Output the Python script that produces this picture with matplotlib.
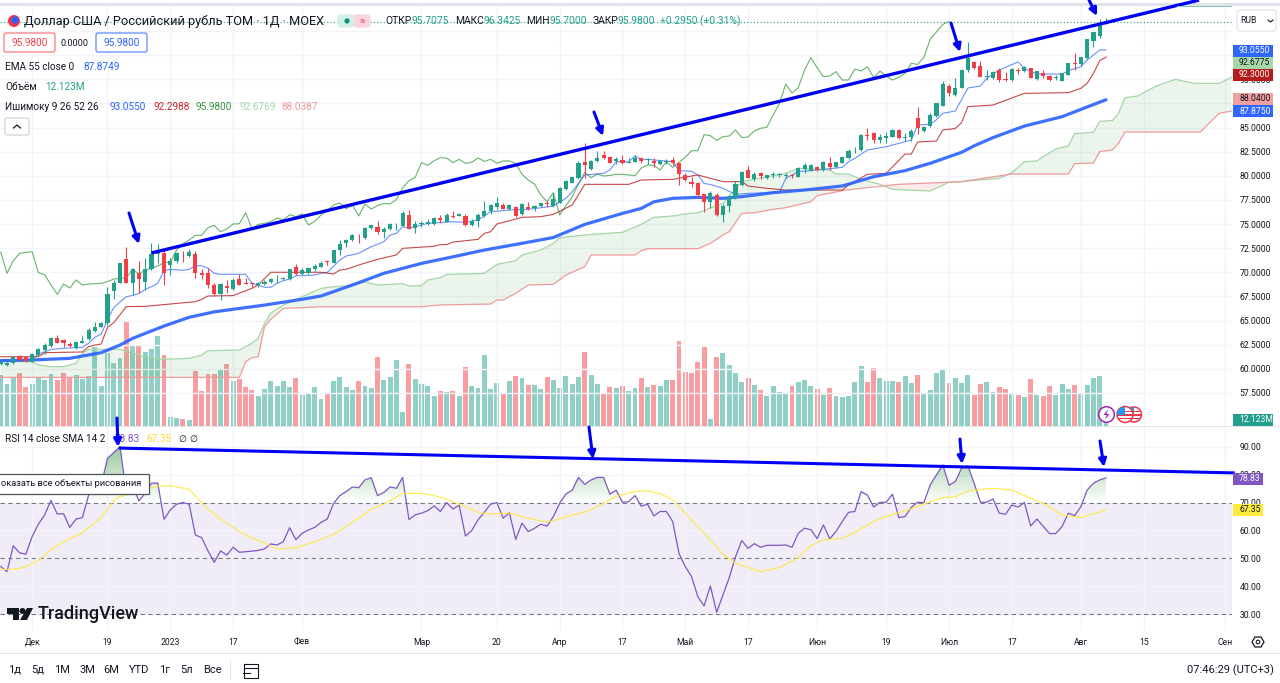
import numpy as np
import matplotlib
matplotlib.use('Agg')
import matplotlib.pyplot as plt
from matplotlib.patches import Rectangle, FancyBboxPatch, Circle, Polygon
from matplotlib.path import Path

plt.rcParams['font.family'] = ['Roboto', 'DejaVu Sans']

# daily candles, bar 0 = late Nov 2022
opens = [60.49,60.43,60.63,61.32,61.25,60.74,61.43,61.94,62.36,63.19,62.98,62.6,62.12,62.71,63.09,63.91,64.36,64.78,68.09,68.92,
         71.34,68.92,69.96,69.0,70.3,71.89,72.03,70.75,71.2,72.13,71.72,71.89,69.96,69.96,68.68,67.71,68.58,68.27,69.3,68.85,
         68.89,68.72,68.78,69.03,69.27,69.27,69.27,70.51,69.82,69.89,70.3,70.58,71.17,71.0,72.3,73.07,73.34,73.9,73.51,74.55,
         74.72,74.17,74.48,74.96,74.83,75.93,74.55,74.96,74.96,74.96,75.59,75.24,75.83,75.83,75.86,74.9,75.28,75.83,76.31,76.8,
         76.97,76.52,76.73,76.04,76.73,76.62,76.9,77.18,76.86,77.21,78.63,79.28,79.77,81.39,80.66,81.49,82.12,81.91,81.56,81.63,
         81.32,81.46,81.8,81.63,81.56,81.25,81.42,81.63,81.29,80.08,79.35,79.28,78.11,77.31,78.0,75.9,76.86,77.66,79.04,80.6,
         79.63,80.25,79.73,80.08,80.08,79.97,80.08,79.9,80.66,80.53,80.94,80.6,81.29,80.87,81.35,81.84,82.53,82.67,84.22,84.4,
         83.7,83.95,84.05,84.74,83.95,83.98,85.95,84.64,85.16,86.19,87.26,89.3,88.37,89.13,90.96,91.82,91.41,90.23,90.1,90.96,
         89.99,89.92,90.96,90.85,91.13,90.02,90.68,90.33,90.13,89.82,90.44,91.72,91.54,92.16,94.0,94.48,95.7075]
closes = [60.74,60.56,61.25,60.91,60.84,61.53,62.01,62.43,63.15,62.71,62.71,62.36,62.77,62.91,64.02,64.33,64.71,67.71,68.85,71.0,
          68.92,70.3,69.27,70.34,71.89,72.1,69.89,71.2,71.96,72.06,72.13,69.96,69.75,68.68,67.71,68.78,68.37,69.2,68.68,68.78,
          68.82,68.85,69.03,69.3,69.34,69.44,70.3,69.82,70.23,70.41,70.65,71.0,71.06,72.3,72.93,73.34,73.83,73.83,74.62,74.86,
          74.2,74.48,75.0,75.03,76.17,74.52,74.96,75.07,75.24,75.62,75.41,75.97,75.76,76.04,74.9,75.28,75.93,76.38,76.97,77.18,
          76.59,76.97,75.83,77.07,76.55,76.9,77.14,77.07,77.55,78.73,79.49,79.83,81.36,81.08,81.56,81.87,81.84,81.36,81.7,81.29,
          81.39,81.84,81.49,81.7,81.29,81.53,81.53,81.29,80.15,79.56,79.14,78.0,77.31,78.25,75.93,76.9,77.83,79.14,80.35,79.8,
          80.18,79.97,80.04,80.15,80.15,80.08,80.01,80.8,81.11,81.08,80.6,81.46,80.87,81.39,81.91,82.6,82.6,84.26,84.15,83.67,
          84.05,84.12,84.74,83.95,84.02,84.64,84.92,85.02,86.3,87.5,89.5,88.58,89.13,90.96,92.24,91.2,90.27,90.34,90.79,89.92,
          89.92,91.06,90.85,91.3,90.16,90.85,90.33,89.92,90.2,90.61,91.65,91.54,92.27,94.13,94.9,95.69,95.98]
highs = [60.85,60.7,61.35,61.45,61.35,61.6,62.12,62.64,63.33,63.47,63.12,62.81,62.85,63.4,64.19,64.88,64.88,68.51,69.2,71.0,
         72.58,70.41,71.2,71.44,73.0,72.93,72.48,71.44,72.13,72.24,72.41,72.24,70.3,70.41,68.85,68.92,69.2,69.37,69.82,69.44,
         69.03,69.03,69.2,69.37,69.72,69.5,70.34,70.86,70.48,70.5,70.86,71.2,71.27,72.35,73.34,73.48,73.96,73.93,74.7,74.93,
         75.31,74.72,75.07,75.14,76.38,76.45,75.31,75.35,75.55,75.76,75.93,76.1,76.35,76.1,76.04,75.48,76.1,77.42,77.07,77.76,
         77.21,77.04,76.86,77.14,77.28,76.97,77.21,77.42,78.18,78.8,79.55,79.9,81.56,83.43,81.63,82.56,82.6,82.05,81.98,82.15,
         81.8,82.15,81.98,81.8,81.8,81.63,81.7,81.98,81.29,80.32,79.9,79.39,78.11,78.42,78.25,77.07,77.97,79.49,80.49,81.04,
         80.42,80.42,80.08,80.42,80.32,80.25,80.18,80.87,81.35,81.22,81.04,81.53,81.91,81.46,81.95,82.74,83.01,84.3,84.98,84.57,
         84.29,84.57,84.81,84.85,84.4,84.85,87.16,85.16,86.47,87.57,89.82,89.54,90.1,91.06,93.83,91.89,91.93,90.96,90.85,91.13,
         90.78,91.13,91.13,91.37,91.2,90.9,91.0,90.4,90.44,90.68,91.7,92.68,92.34,94.2,94.9,96.24,96.3425]
lows = [60.35,60.3,60.5,60.8,60.7,60.7,61.32,61.53,62.3,62.64,62.29,62.29,62.05,62.64,62.98,63.85,64.3,64.54,67.2,68.92,
        68.92,67.65,67.89,68.16,70.23,70.93,68.68,69.72,70.93,71.1,71.55,69.37,69.27,68.33,67.58,67.13,67.82,68.16,68.68,68.78,
        68.44,68.51,68.68,68.85,68.85,69.2,69.24,69.72,69.72,69.8,70.17,70.51,70.75,70.95,71.79,72.65,73.27,73.0,73.45,74.52,
        73.93,73.58,74.38,74.38,74.79,74.52,74.03,74.72,74.9,74.9,75.07,75.17,75.66,75.8,74.83,74.79,74.72,75.76,76.04,76.59,
        76.52,76.45,75.69,75.93,76.45,76.35,76.73,76.8,76.8,77.15,78.55,79.21,79.7,79.8,80.6,81.46,81.77,81.29,81.18,81.22,
        81.29,81.39,81.35,81.22,80.94,81.11,81.18,81.15,79.04,79.46,78.87,77.66,76.28,76.62,75.83,75.24,76.28,77.59,78.97,79.73,
        79.49,79.63,79.7,79.8,79.84,79.73,79.8,79.84,80.25,80.49,80.53,80.53,80.6,80.84,81.3,81.77,82.32,82.6,83.7,83.36,
        83.36,83.36,84.0,83.8,83.55,83.55,84.29,84.5,85.09,86.12,87.26,88.3,88.3,89.13,90.72,91.06,90.2,89.92,90.03,89.75,
        89.82,89.85,90.54,90.8,90.1,89.96,90.16,89.85,89.92,89.78,90.4,90.96,91.37,92.1,93.37,94.24,95.7]

# volume in millions
volumes = [103,85,98,106,78,85,96,93,105,93,106,98,103,95,101,159,80,147,127,136,
           209,161,161,149,155,181,142,18,16,15,13,111,71,105,105,113,124,91,95,78,
           73,60,75,91,80,91,78,96,63,65,78,55,65,90,98,78,73,91,80,77,
           138,93,98,133,28,125,95,85,80,61,70,68,71,61,118,80,77,143,75,87,
           65,91,100,97,83,83,75,98,93,77,101,85,98,148,103,85,67,78,77,81,
           70,77,97,78,83,81,93,93,171,108,107,128,158,15,138,147,123,107,88,97,
           83,73,60,80,68,65,80,88,93,80,75,63,77,60,58,60,88,120,88,117,
           96,90,90,88,100,87,102,67,73,107,113,87,97,87,102,62,85,88,68,78,
           75,67,63,58,95,63,60,80,63,85,75,82,67,83,97,100,12.123]

rsi = [47.1,45.3,54.5,52,51.5,57.8,62.3,65.6,70.8,65.9,66,61.1,64.1,64.6,72.7,75,76.3,85.8,87.9,90,
       73.3,76.3,70.6,73.3,76.9,77,64,67.4,69.4,70,69.4,58.4,57.4,52.7,48.6,52.7,51.2,54,52.2,52.4,
       52.6,52.9,53.4,55.2,54.8,56,61,56.7,59,60.2,61.1,62.9,64.1,69.7,72.5,73.9,75.6,75.3,78.1,78.9,
       72.5,73.6,75.6,75.1,79,63.9,65.6,66.2,67.1,68.8,66.8,70,67.7,69,58,60,63.8,66.5,69.4,70,
       64.4,66.4,56.8,62.6,59.6,60.8,62.2,61.6,65,69.7,73.1,74.4,79,76.5,78.1,79,79,73,74.4,70.1,
       70.3,72.5,68.7,69.4,65.2,66.8,66.8,63.2,51.8,47.1,43.5,36.3,33,40.1,30.7,36.9,43.1,50.6,56.4,53.6,
       55.3,54,54.7,54.7,54.7,54.8,54,59,60.8,60.3,57.1,62,57,59.6,63.2,66.5,66.8,73.9,72.7,68.4,
       70.1,70.1,73,64.6,65,68.3,70.1,70,76.3,79.9,83.5,76.2,77.5,82.3,83.2,76.9,70.1,70.1,71.3,66.2,
       65.8,69.1,68.4,70,61.6,64.1,61.5,58.9,58.9,61.4,66.2,65.3,68.5,74.5,76.9,78.1,78.83]

rsi_ma_bars = [0,1,3,4,6,8,10,13,16,18,19,22,25,27,30,31,33,36,39,42,44,47,51,53,56,59,61,64,67,69,71,74,76,78,81,84,87,89,93,95,98,101,103,105,107,109,112,115,117,121,124,127,129,131,134,136,139,142,144,147,150,152,154,158,161,163,166,169,172,176]
rsi_ma = [46.2,46,46.4,47,49.3,53.2,56,59.1,64.7,70.6,72.2,73.9,75.9,76,74.8,72.3,67.6,62.6,58.3,55.5,53.4,53.8,56.8,58.6,62.9,67.7,69.4,73.3,73.3,72.5,71.2,68.5,66.5,65.9,66.2,64.4,63,64.2,66.6,68.6,72.2,74,74.2,73.2,71,66.2,59,51.5,48.3,45.3,46.7,50.3,54.6,56.6,57.2,59.4,63.2,65.8,67,69.4,71.8,72.1,74.2,75.1,74.5,72.5,69.7,65.6,64.6,67.35]

ema_bars = [0,5,11,16,19,21,26,30,34,42,48,51,56,61,67,72,77,83,88,93,99,102,104,107,111,115,118,123,128,134,139,144,148,153,155,158,163,169,172,176]
ema = [60.84,60.91,61.08,61.67,62.46,63.15,64.43,65.33,65.9,66.6,67.2,67.54,68.68,69.89,70.92,71.6,72.3,73,73.6,74.96,76.1,76.62,77.3,77.66,77.76,77.66,77.83,78.25,78.52,78.94,79.9,80.53,81.29,82.43,83.1,83.95,85.15,86.12,86.88,87.875]

tenkan_bars = [0,4,5,6,8,10,13,14,15,16,17,18,20,21,22,23,24,25,26,27,29,30,31,32,33,34,35,39,40,41,42,43,44,45,46,47,48,50,51,52,54,55,57,59,61,62,63,64,65,68,72,74,76,78,81,84,88,90,91,93,96,97,98,100,101,102,103,107,108,110,111,112,113,115,117,119,124,125,127,130,134,135,136,138,141,144,145,146,148,149,150,152,153,154,156,157,158,159,162,163,165,169,170,172,173,175,176]
tenkan = [60.9,60.9,60.98,61.53,62.0,62.12,62.22,62.64,63.26,63.6,65.05,66.37,67.47,67.6,67.8,68.23,68.5,68.85,70.17,70.3,70.2,70.3,70.68,70.68,70.41,69.89,69.79,69.79,68.85,68.68,68.44,68.44,68.85,69.13,69.3,69.65,69.65,69.72,69.89,69.99,71.27,71.68,71.96,72.65,73.17,73.86,74.03,74.72,74.55,75.07,75.24,75.17,75.41,76.28,76.45,76.52,76.86,77.66,78.35,80.08,80.25,80.6,81.46,81.46,82.05,81.7,81.7,81.46,80.53,80.46,80.08,79.2,79.1,78.7,78.07,78.18,78.25,79.73,80.42,80.6,80.87,81.46,81.8,82.67,83.01,83.53,83.7,85.26,85.33,85.8,86.47,86.71,87.9,89.09,89.3,90.1,90.54,90.96,91.79,91.13,90.54,90.54,90.89,91.3,91.99,93.03,93.055]

kijun_bars = [0,6,7,13,14,15,16,17,18,20,23,27,31,32,33,37,40,41,43,51,53,54,55,57,60,63,64,69,70,71,72,76,77,78,79,81,83,86,88,91,93,100,102,107,111,115,118,119,122,125,134,135,138,141,144,145,146,149,150,152,153,154,158,163,170,172,173,174,175,176]
kijun = [61.25,61.25,61.67,61.74,62.29,62.46,62.57,64.3,64.78,66.44,66.47,66.71,66.95,67.2,67.54,67.58,68.34,68.68,70,70,69.82,70.23,70.3,70.75,71.34,71.79,72.48,72.69,72.86,72.86,73.13,73.41,74.03,74.2,75,75.34,75.69,75.76,76,76.97,79.11,79.11,79.56,79.63,80.08,79.39,79.39,78.94,78.7,78.52,78.52,79.04,80.15,80.25,82.25,82.25,83.5,83.6,84.74,84.9,85.5,87.16,87.33,88.54,88.61,89.06,89.58,90.61,91.92,92.2988]

span_a_bars = [0,5,6,8,10,12,13,14,19,21,24,26,30,32,33,38,40,41,42,43,45,51,53,55,58,60,64,65,67,68,70,71,77,79,82,83,86,88,89,93,95,99,102,104,107,109,111,115,118,125,127,132,133,135,137,140,142,148,151,153,155,159,161,163,165,166,168,170,171,174,175,177,178,179,181,184,187,190,194,196]
span_a = [60.74,60.74,60.39,60.22,60.22,60.56,61.6,62.01,62.01,61.6,61.08,60.98,61.08,61.43,61.87,61.94,62.64,63.15,64.71,65.75,66.61,68.33,68.5,68.58,68.99,68.68,68.82,68.58,68.61,69.2,69.44,69.78,69.89,70.82,71.2,71.79,72.31,73,73.58,73.86,73.96,74.14,74.97,75.69,75.83,76.04,76.17,77.14,79.39,80.25,80.77,80.6,80.18,80.18,79.63,79.11,78.59,78.42,79.32,79.39,79.52,79.73,80.32,81.46,81.53,81.98,82.77,83.08,84.36,84.5,85.64,85.71,86.47,88.09,88.26,89.3,89.99,89.58,89.58,90.2]
span_b_bars = [0,38,39,40,41,42,43,45,48,51,67,70,78,79,80,82,84,88,90,93,94,101,102,103,111,113,115,116,118,120,123,125,129,130,134,137,143,153,161,163,170,171,174,175,177,178,179,191,194,196]
span_b = [59.11,59.11,60.74,61.15,61.25,64.36,65.12,66.26,66.33,66.43,66.43,66.61,66.71,67.12,67.12,67.82,68.68,68.75,69.72,70.58,71.79,71.79,72.24,72.44,72.44,73,73.86,74.2,76.1,76.17,76.52,76.69,77.31,77.94,78.45,78.7,79.11,79.39,80.18,80.18,80.18,81.25,81.32,82.5,82.67,83.36,84.53,84.53,86.47,86.71]

trend_bars = [24, 190.8]
trend_prices = [72.0, 98.2]
rsi_trend_bars = [18.8, 196.5]
rsi_trend_vals = [89.5, 80.6]

price_ticks = [57.5,60,62.5,65,67.5,70,72.5,75,77.5,80,82.5,85,87.5,90,92.5,95]
hidden_ticks = [87.5, 92.5, 95]  # sit behind the price tags / RUB box
rsi_ticks = [30,40,50,60,70,80,90]
date_bars = [5,17,27,37,48,67,79,89,99,109,119,130,141,151,161,172,182,195]
date_labels = ['Дек','19','2023','17','Фев','Мар','20','Апр','17','Май','17','Июн','19','Июл','17','Авг','15','Сен']
range_buttons = ['1д','5д','1М','3М','6М','YTD','1г','5л','Все']

TEAL = '#22a08c'
RED = '#f23f45'
GRID = '#f3f4f9'
TXT = '#131722'
BLUE = '#2962ff'
W, H = 1280, 683


def pane(top, bottom):
    return fig.add_axes([0, 1 - bottom / H, 1232 / W, (bottom - top) / H])


def cloud_part(lo, hi, color):
    xa = [b for b in span_a_bars if lo <= b <= hi]
    ya = [v for b, v in zip(span_a_bars, span_a) if lo <= b <= hi]
    xb = [b for b in span_b_bars if lo <= b <= hi]
    yb = [v for b, v in zip(span_b_bars, span_b) if lo <= b <= hi]
    ax.fill(xa + xb[::-1], ya + yb[::-1], color=color, alpha=0.1, lw=0, zorder=1)


fig = plt.figure(figsize=(W / 100, H / 100), dpi=100)

# top band goes behind the trend line
bg = fig.add_axes([0, 0, 1, 1], zorder=-1)
bg.set_xlim(0, W)
bg.set_ylim(H, 0)
bg.axis('off')
bg.add_patch(Rectangle((0, 3), W, 3, color='#e0e3eb', lw=0))

# price pane, bar i sits at 0.73 + 6.28 * i px
xlim = (-0.116, 196.06)
bars = np.arange(len(closes))
o, c, hi, lo = map(np.array, (opens, closes, highs, lows))
up = c >= o
cols = [TEAL if u else RED for u in up]

vol_ax = pane(6, 426)
vol_ax.bar(bars, volumes, width=0.78, color=cols, alpha=0.5, lw=0)
vol_ax.set_xlim(xlim)
vol_ax.set_ylim(0, 840)
vol_ax.axis('off')

ax = pane(6, 426)
ax.patch.set_visible(False)
ax.set_xlim(xlim)
ax.set_ylim(54.07, 97.59)
ax.set_xticks(date_bars)
ax.set_yticks(price_ticks)
ax.set_yticklabels(['' if p in hidden_ticks else f'{p:.4f}' for p in price_ticks], fontsize=6.2, color=TXT)
ax.yaxis.tick_right()
ax.tick_params(length=0, labelbottom=False)
ax.tick_params(axis='y', pad=5.5)
ax.grid(color=GRID, lw=1)
ax.set_axisbelow(True)
for s in ax.spines.values():
    s.set_visible(False)

cloud_part(0, 140, '#43a047')
cloud_part(140, 153, '#f44336')
cloud_part(153, 196, '#43a047')
ax.plot(span_a_bars, span_a, color='#a5d6a7', lw=0.9, zorder=2)
ax.plot(span_b_bars, span_b, color='#ef9a9a', lw=0.9, zorder=2)
# lagging span: closes drawn 25 bars back
ax.plot(bars[:-25], closes[25:], color='#43a047', lw=0.8, alpha=0.8, zorder=2)
ax.plot(tenkan_bars, tenkan, color=BLUE, lw=0.8, alpha=0.7, zorder=3)
ax.plot(kijun_bars, kijun, color='#b71c1c', lw=0.8, alpha=0.8, zorder=3)
ax.plot(ema_bars, ema, color=BLUE, lw=2.3, alpha=0.9, zorder=4, solid_capstyle='round', solid_joinstyle='round')
ax.vlines(bars, lo, hi, color=cols, lw=0.8, zorder=5)
ax.bar(bars, np.maximum(np.abs(c - o), 0.06), bottom=np.minimum(o, c), width=0.66, color=cols, lw=0, zorder=6)
ax.axhline(closes[-1], color=TEAL, lw=0.8, ls=(0, (1, 2)), zorder=4)
ax.plot(trend_bars, trend_prices, color='#0000f5', lw=2.4, zorder=8, clip_on=False, solid_capstyle='butt')

# rsi pane
rs = pane(427, 630)
rs.set_xlim(xlim)
rs.set_ylim(24.38, 97.04)
rs.axhspan(30, 70, color='#7e57c2', alpha=0.1, lw=0, zorder=0)
for lvl in (30, 50, 70):
    rs.axhline(lvl, color='#787b86', lw=0.8, ls=(0, (4, 3)), zorder=1)
rsi_arr = np.array(rsi)
over = rs.fill_between(bars, 70, rsi_arr, where=rsi_arr > 70, interpolate=True, color='none', lw=0)
clip = Path.make_compound_path(*over.get_paths())
grad = np.zeros((64, 2, 4))
grad[..., :3] = matplotlib.colors.to_rgb('#43a047')
grad[..., 3] = np.linspace(0.55, 0.0, 64)[:, None]
im = rs.imshow(grad, extent=(xlim[0], xlim[1], 70, 90), aspect='auto', zorder=1, interpolation='bilinear')
im.set_clip_path(clip, transform=rs.transData)
rs.set_xlim(xlim)
rs.set_ylim(24.38, 97.04)
rs.plot(bars, rsi, color='#7e57c2', lw=0.9, zorder=3)
rs.plot(rsi_ma_bars, rsi_ma, color='#ffe93b', lw=0.9, alpha=0.85, zorder=3)
rs.plot(rsi_trend_bars, rsi_trend_vals, color='#0000f5', lw=2.2, zorder=6, clip_on=False, solid_capstyle='butt')
rs.set_yticks(rsi_ticks)
rs.set_yticklabels([f'{v:.2f}' for v in rsi_ticks], fontsize=6.2, color=TXT)
rs.yaxis.tick_right()
rs.set_xticks(date_bars)
rs.set_xticklabels(date_labels, fontsize=6.2, color=TXT)
rs.tick_params(length=0)
rs.tick_params(axis='y', pad=5.5)
rs.tick_params(axis='x', pad=5.5)
rs.grid(color=GRID, lw=1)
rs.set_axisbelow(True)
for s in rs.spines.values():
    s.set_visible(False)

# everything else (legend rows, price tags, toolbar) in screen pixels
ui = fig.add_axes([0, 0, 1, 1], zorder=20)
ui.set_xlim(0, W)
ui.set_ylim(H, 0)
ui.axis('off')


def txt(x, y, s, color=TXT, size=7.2, ha='left', **kw):
    ui.text(x, y, s, color=color, fontsize=size, ha=ha, va='center', **kw)


def tag(y, s, bg_col, fg='white', x0=1233, x1=1273, h=12):
    ui.add_patch(Rectangle((x0, y - h / 2), x1 - x0, h, color=bg_col, lw=0))
    txt(x0 + 6, y, s, color=fg, size=6.2)


def rbox(x0, y0, x1, y1, ec, fc='white', r=2, lw=0.9):
    ui.add_patch(FancyBboxPatch((x0 + r, y0 + r), x1 - x0 - 2 * r, y1 - y0 - 2 * r,
                                boxstyle=f'round,pad={r}', ec=ec, fc=fc, lw=lw))


def arrow(x0, y0, x1, y1):
    ui.annotate('', xy=(x1, y1), xytext=(x0, y0),
                arrowprops=dict(arrowstyle='-|>', color='#0000f5', lw=2.2, mutation_scale=11, shrinkA=0, shrinkB=0))


def flag(x, y, r, z):
    ring = Circle((x, y), r, ec='#f23645', fc='white', lw=1.1, zorder=z)
    ui.add_patch(ring)
    for yy in (y - 3, y + 0.5, y + 4):
        st = Rectangle((x - r, yy - 0.9), 2 * r, 1.8, color='#f23645', lw=0, zorder=z)
        ui.add_patch(st)
        st.set_clip_path(ring)
    canton = Rectangle((x - r, y - r), r, r, color='#2196f3', lw=0, zorder=z)
    ui.add_patch(canton)
    canton.set_clip_path(ring)


# frame lines
ui.add_patch(Rectangle((0, 425.5), W, 1.2, color='#e0e3eb', lw=0))
ui.add_patch(Rectangle((0, 652.5), W, 1.2, color='#e0e3eb', lw=0))
ui.add_patch(Rectangle((1177, 6), 55, 1, color='#7fc8bd', lw=0))
ui.add_patch(Rectangle((230, 660), 0.8, 20, color='#e0e3eb', lw=0))

# title row
ui.add_patch(Circle((14, 21), 6, color='#f23645', lw=0))
ui.add_patch(Circle((15, 20), 3.6, color='#2962ff', lw=0))
txt(24, 21, 'Доллар США / Российский рубль ТОМ · 1Д · MOEX', size=9.2)
rbox(338, 15, 354, 27, '#d5efe9', fc='#d5efe9', r=3)
rbox(354, 15, 370, 27, '#fbd5de', fc='#fbd5de', r=3)
ui.add_patch(Circle((347, 21), 2.6, color='#0e8f7d', lw=0))
txt(362, 21, '≈', color='#e91e63', size=7, ha='center')
for x, s, col in [(385, 'ОТКР', TXT), (412, '95.7075', TEAL), (455, 'МАКС', TXT), (484, '96.3425', TEAL),
                  (526, 'МИН', TXT), (550, '95.7000', TEAL), (593, 'ЗАКР', TXT), (618, '95.9800', TEAL),
                  (660, '+0.2950 (+0.31%)', TEAL)]:
    txt(x, 21, s, color=col, size=7.4)

rbox(4, 33, 55, 52, '#f77c80')
txt(29.5, 43, '95.9800', color=RED, size=7.2, ha='center')
txt(74.5, 43, '0.0000', size=6.6, ha='center')
rbox(96, 33, 147, 52, '#5b8cff')
txt(121.5, 43, '95.9800', color=BLUE, size=7.2, ha='center')

txt(5, 67, 'EMA 55 close 0', size=7.2)
txt(83, 67, '87.8749', color=BLUE, size=7.2)
txt(5, 87, 'Объём', size=7.2)
txt(45, 87, '12.123M', color=TEAL, size=7.2)
txt(5, 107, 'Ишимоку 9 26 52 26', size=7.2)
for x, s, col in [(110, '93.0550', BLUE), (153, '92.2988', '#c62828'), (196, '95.9800', '#388e3c'),
                  (239, '92.6769', '#a5d6a7'), (282, '88.0387', '#ef9a9a')]:
    txt(x, 107, s, color=col, size=7.2)
rbox(5, 118, 29, 135, '#d1d4dc')
ui.plot([13.5, 17, 20.5], [128, 125, 128], color=TXT, lw=0.9)

# RUB box and price tags
rbox(1237, 10, 1276, 31, '#e0e3eb', r=3)
txt(1240, 20.5, 'RUB', size=6.2)
ui.plot([1268, 1270.5, 1273], [20, 22, 20], color=TXT, lw=0.8)
tag(50.5, '93.0550', '#2f66ff')
tag(62.5, '92.6775', '#a8d8aa', fg=TXT)
tag(74.5, '92.3000', '#b71c1c')
tag(98.5, '88.0400', '#f0a0a0', fg=TXT)
tag(111, '87.8750', '#2f66ff')
tag(419.5, '12.123M', TEAL)
tag(478.5, '78.83', '#7e57c2', x1=1263)
tag(510, '67.35', '#ffeb3b', fg=TXT, x1=1263)

# rsi legend
txt(5, 439, 'RSI 14 close SMA 14 2', size=7.2)
txt(115, 439, '78.83', color='#7e57c2', size=7.2)
txt(146, 439, '67.35', color='#fdd835', size=7.2)
txt(178, 439, '∅', size=6.6)
txt(189, 439, '∅', size=6.6)

# tooltip
ui.add_patch(Rectangle((-3, 474), 152, 20, ec='#50535e', fc='white', lw=0.9))
txt(1, 484, 'оказать все объекты рисования', size=6.7)

# watermark
ui.add_patch(Polygon([(7, 608), (19, 608), (19, 620), (13, 620), (13, 614), (7, 614)], color='#131722', lw=0))
ui.add_patch(Circle((22.5, 611), 3, color='#131722', lw=0))
ui.add_patch(Polygon([(27, 608), (33, 608), (27, 620), (20, 620)], color='#131722', lw=0))
txt(38, 614, 'TradingView', size=13, fontweight='medium')

# event markers on volume pane
flag(1134, 414.5, 7.5, 2)
flag(1125, 414.5, 8, 3)
ui.add_patch(Circle((1106.5, 414.5), 7.8, ec='#9c27b0', fc='white', lw=1.1, zorder=4))
ui.add_patch(Polygon([(1108, 409.5), (1103.5, 415), (1106.5, 415), (1105, 419.5), (1109.5, 414), (1106.5, 414)],
                     color='#9c27b0', lw=0, zorder=5))

for a in [(129, 213, 139, 244), (594, 112, 603, 136), (951, 23, 960, 52), (1089, 0, 1097, 16),
          (117, 418, 118, 447), (589, 427, 593, 459), (960, 439, 962, 464), (1100, 441, 1104, 467)]:
    arrow(*a)

# bottom bar
for x, s in zip([15, 38, 62, 87, 111, 139, 165, 187, 212], range_buttons):
    txt(x, 670, s, size=8, ha='center')
ui.plot([244, 244, 258, 258, 244], [664, 678, 678, 664, 664], color=TXT, lw=0.8)
ui.plot([244, 258], [668, 668], color=TXT, lw=0.8)
ui.plot([243, 250], [673, 673], color=TXT, lw=0.8)
txt(1274, 670, '07:46:29 (UTC+3)', size=8, ha='right')
ui.add_patch(Polygon([(1252, 642), (1255, 637), (1261, 637), (1264, 642), (1261, 647), (1255, 647)],
                     ec=TXT, fc='white', lw=0.9))
ui.add_patch(Circle((1258, 642), 1.8, ec=TXT, fc='white', lw=0.8))

fig.savefig('out.png', dpi=100)
